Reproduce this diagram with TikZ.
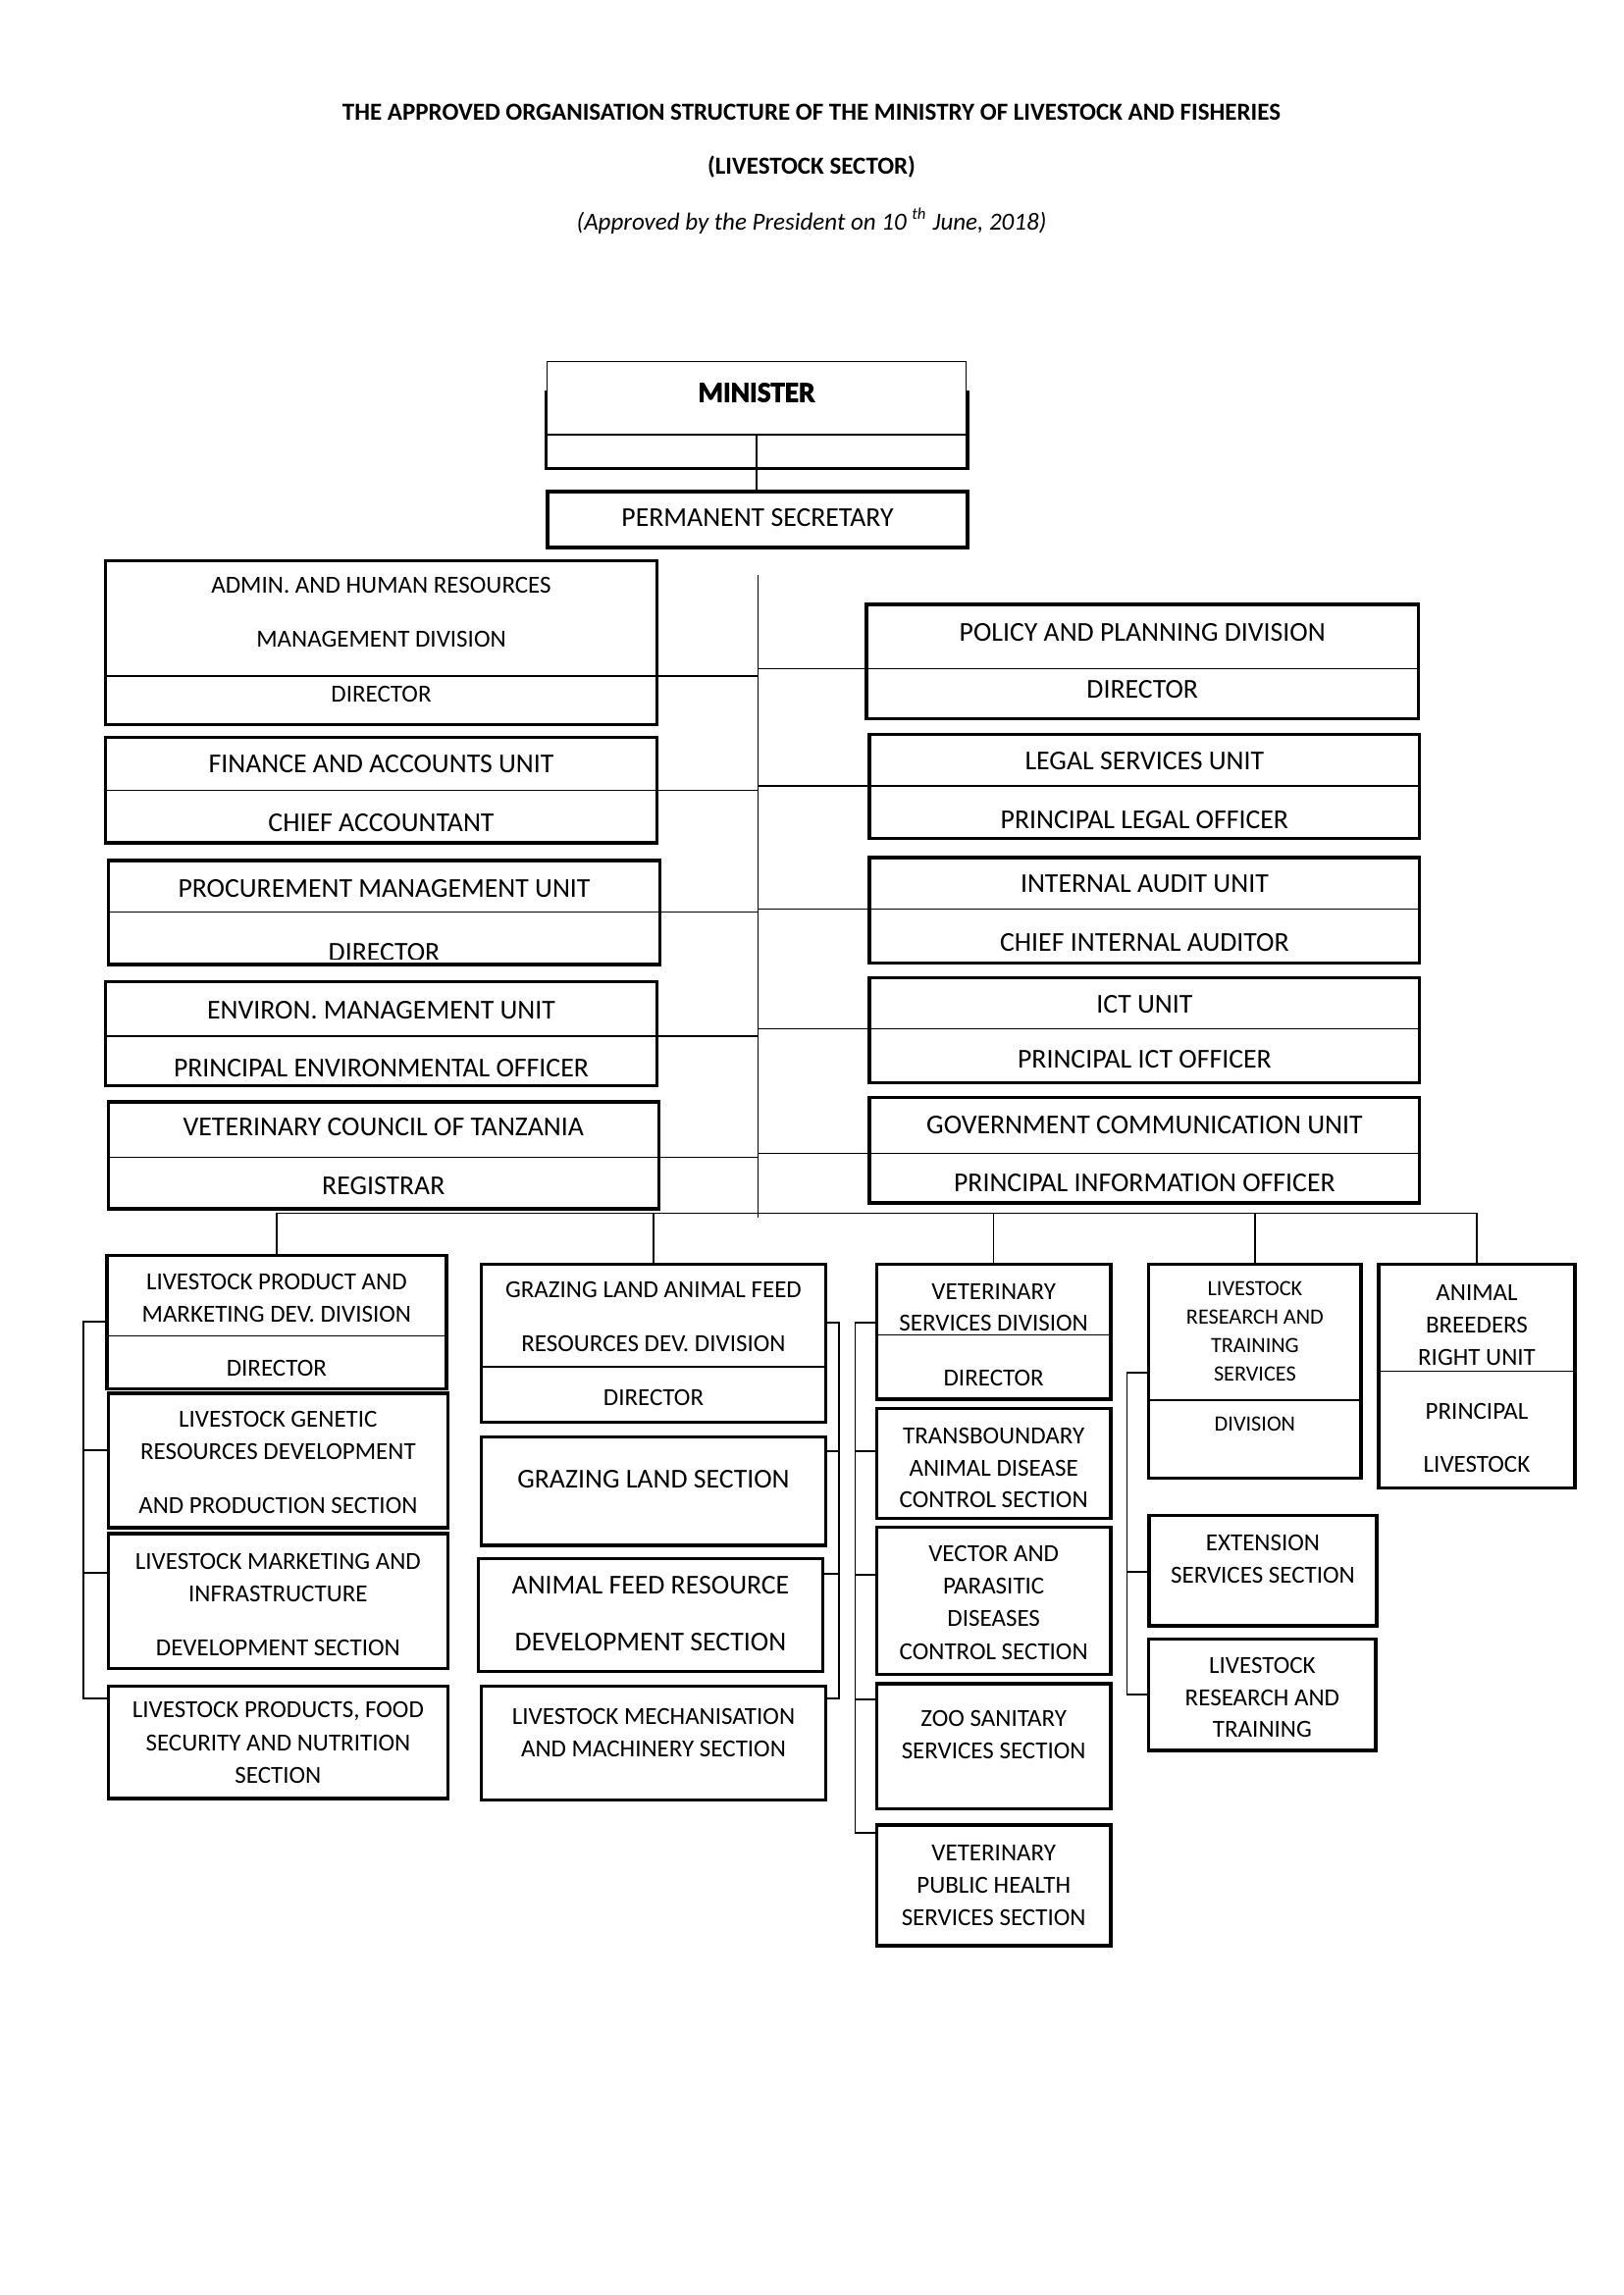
\documentclass[tikz,border=0pt]{standalone}
\usepackage{fontspec}
\setmainfont{Carlito}
\newfontfamily\heavyfont[BoldFeatures={FakeBold=2.5}]{Carlito}
\usetikzlibrary{fit}
\begin{document}
\begin{tikzpicture}[x=0.36pt,y=-0.36pt,
 box/.style={draw,line width=1.2pt,fill=white,inner sep=0pt,outer sep=0pt},
 thinbox/.style={draw,line width=0.45pt,fill=white,inner sep=0pt,outer sep=0pt},
 ln/.style={line width=0.45pt},
 tx/.style={inner sep=0pt,font=\fontsize{10}{12}\selectfont},
 tn/.style={inner sep=0pt,font=\fontsize{9}{11}\selectfont},
 ts/.style={inner sep=0pt,font=\fontsize{8}{10}\selectfont},
 ttl/.style={inner sep=0pt,font=\bfseries\fontsize{9}{11}\selectfont}]

\fill[white] (0,0) rectangle (1654,2339);
\useasboundingbox (0,0) rectangle (1654,2339);

% ---------- titles
\node[ttl] (title1) at (827,114.8) {THE APPROVED ORGANISATION STRUCTURE OF THE MINISTRY OF LIVESTOCK AND FISHERIES};
\node[ttl] (title2) at (827,170) {(LIVESTOCK SECTOR)};
\node[inner sep=0pt,font=\itshape\fontsize{9}{11}\selectfont] (title3) at (827,225.2) {(Approved by the President on 10 \textsuperscript{th} June, 2018)};

% ---------- minister and PS
\node[box,fit={(556.3,399.7) (985.9,477.3)}] (minb) {};
\node[thinbox,fit={(557.8,368.4) (984.4,443)}] (min) {};
\node[inner sep=0pt,font=\heavyfont\bfseries\fontsize{10.5}{12}\selectfont] (mint) at (771,400) {MINISTER};
\node[box,fit={(558,501) (986,558)}] (ps) {};
\node[tx] (pst) at (772,528) {PERMANENT SECRETARY};
\draw[ln] (min.south) -- (min.south |- ps.north);

% ---------- spine
\coordinate (sT) at (772.6,586);
\coordinate (sB) at (772.6,1241);
\draw[ln] (sT) -- (sB);

% ---------- left column
\node[box,fit={(107.4,571.2) (669.7,738.3)}] (admin) {};
\draw[ln] (107.4,689) -- (669.7,689);
\node[tn] (admin1) at (388.5,596.6) {ADMIN. AND HUMAN RESOURCES};
\node[tn] (admin2) at (388.5,651.8) {MANAGEMENT DIVISION};
\node[tn] (admin3) at (388.5,707) {DIRECTOR};

\node[box,fit={(107.4,751.7) (669.7,859)}] (fin) {};
\draw[ln] (107.4,805.4) -- (669.7,805.4);
\node[tx] (fin1) at (388.5,778.6) {FINANCE AND ACCOUNTS UNIT};
\node[tx] (fin2) at (388.5,838.2) {CHIEF ACCOUNTANT};

\node[box,fit={(110.4,877) (672.7,982.9)}] (proc) {};
\draw[ln] (110.4,929.2) -- (672.7,929.2);
\node[tx] (proc1) at (391.5,905.3) {PROCUREMENT MANAGEMENT UNIT};
\begin{scope}
\clip (110.4,877) rectangle (672.7,977);
\node[tx,anchor=base] (proc2) at (391.5,979.5) {DIRECTOR};
\end{scope}

\node[box,fit={(107.4,1000.8) (669.7,1106.7)}] (env) {};
\draw[ln] (107.4,1056) -- (669.7,1056);
\node[tx] (env1) at (388.5,1029.1) {ENVIRON. MANAGEMENT UNIT};
\node[tx] (env2) at (388.5,1088.8) {PRINCIPAL ENVIRONMENTAL OFFICER};

\node[box,fit={(110.4,1123.1) (671.2,1232)}] (vct) {};
\draw[ln] (110.4,1179.8) -- (671.2,1179.8);
\node[tx] (vct1) at (390.8,1148.5) {VETERINARY COUNCIL OF TANZANIA};
\node[tx] (vct2) at (390.8,1208.1) {REGISTRAR};

\coordinate (sA1) at (772.6,689);
\coordinate (sA2) at (772.6,805.4);
\coordinate (sA3) at (772.6,929.2);
\coordinate (sA4) at (772.6,1056);
\coordinate (sA5) at (772.6,1179.8);
\draw[ln] (admin.east |- sA1) -- (sA1);
\draw[ln] (fin.east |- sA2) -- (sA2);
\draw[ln] (proc.east |- sA3) -- (sA3);
\draw[ln] (env.east |- sA4) -- (sA4);
\draw[ln] (vct.east |- sA5) -- (sA5);

% ---------- right column
\node[box,fit={(883,616) (1445.3,732.3)}] (pol) {};
\draw[ln] (883,681.6) -- (1445.3,681.6);
\node[tx] (pol1) at (1164.2,644.3) {POLICY AND PLANNING DIVISION};
\node[tx] (pol2) at (1164.2,702.5) {DIRECTOR};

\node[box,fit={(886,748.7) (1446.8,854.6)}] (leg) {};
\draw[ln] (886,801) -- (1446.8,801);
\node[tx] (leg1) at (1166.4,775.6) {LEGAL SERVICES UNIT};
\node[tx] (leg2) at (1166.4,835.2) {PRINCIPAL LEGAL OFFICER};

\node[box,fit={(886,874) (1446.8,981.4)}] (aud) {};
\draw[ln] (886,926.2) -- (1446.8,926.2);
\node[tx] (aud1) at (1166.4,900.9) {INTERNAL AUDIT UNIT};
\node[tx] (aud2) at (1166.4,960.5) {CHIEF INTERNAL AUDITOR};

\node[box,fit={(886,996.3) (1446.8,1103.7)}] (ict) {};
\draw[ln] (886,1048.5) -- (1446.8,1048.5);
\node[tx] (ict1) at (1166.4,1023.2) {ICT UNIT};
\node[tx] (ict2) at (1166.4,1079.8) {PRINCIPAL ICT OFFICER};

\node[box,fit={(886,1118.6) (1446.8,1226)}] (gcu) {};
\draw[ln] (886,1175.3) -- (1446.8,1175.3);
\node[tx] (gcu1) at (1166.4,1147) {GOVERNMENT COMMUNICATION UNIT};
\node[tx] (gcu2) at (1166.4,1205.1) {PRINCIPAL INFORMATION OFFICER};

\coordinate (sR1) at (772.6,681.6);
\coordinate (sR2) at (772.6,801);
\coordinate (sR3) at (772.6,926.2);
\coordinate (sR4) at (772.6,1048.5);
\coordinate (sR5) at (772.6,1175.3);
\draw[ln] (sR1) -- (pol.west |- sR1);
\draw[ln] (sR2) -- (leg.west |- sR2);
\draw[ln] (sR3) -- (aud.west |- sR3);
\draw[ln] (sR4) -- (ict.west |- sR4);
\draw[ln] (sR5) -- (gcu.west |- sR5);

% ---------- bottom: livestock product column
\node[box,fit={(108.9,1279.7) (454.9,1415.4)}] (lp) {};
\draw[ln] (108.9,1361.7) -- (454.9,1361.7);
\node[tn] (lp1) at (281.9,1306.6) {LIVESTOCK PRODUCT AND};
\node[tn] (lp2) at (281.9,1339.4) {MARKETING DEV. DIVISION};
\node[tn] (lp3) at (281.9,1394.6) {DIRECTOR};

\node[box,fit={(110.4,1420) (456.4,1557)}] (lg) {};
\node[tn] (lg1) at (283.4,1446.8) {LIVESTOCK GENETIC};
\node[tn] (lg2) at (283.4,1479.6) {RESOURCES DEVELOPMENT};
\node[tn] (lg3) at (283.4,1534.8) {AND PRODUCTION SECTION};

\node[box,fit={(110.4,1563) (456.4,1700.3)}] (lm) {};
\node[tn] (lm1) at (283.4,1591.4) {LIVESTOCK MARKETING AND};
\node[tn] (lm2) at (283.4,1624.2) {INFRASTRUCTURE};
\node[tn] (lm3) at (283.4,1679.4) {DEVELOPMENT SECTION};

\node[box,fit={(110.4,1718.2) (456.4,1833)}] (lpf) {};
\node[tn] (lpf1) at (283.4,1743.6) {LIVESTOCK PRODUCTS, FOOD};
\node[tn] (lpf2) at (283.4,1776.4) {SECURITY AND NUTRITION};
\node[tn] (lpf3) at (283.4,1809.2) {SECTION};

\coordinate (lj1) at (85,1347);
\coordinate (lj2) at (85,1478);
\coordinate (lj3) at (85,1603);
\coordinate (lj4) at (85,1731);
\draw[ln] (lp.west |- lj1) -- (lj1) -- (lj4) -- (lpf.west |- lj4);
\draw[ln] (lj2) -- (lg.west |- lj2);
\draw[ln] (lj3) -- (lm.west |- lj3);

% ---------- grazing column
\node[box,fit={(490.7,1288.7) (841.2,1449.7)}] (gd) {};
\draw[ln] (490.7,1393) -- (841.2,1393);
\node[tn] (gd1) at (666,1314) {GRAZING LAND ANIMAL FEED};
\node[tn] (gd2) at (666,1369.2) {RESOURCES DEV. DIVISION};
\node[tn] (gd3) at (666,1424.4) {DIRECTOR};

\node[box,fit={(490.7,1464.7) (841.2,1575)}] (gl) {};
\node[tx] (gl1) at (666,1508) {GRAZING LAND SECTION};

\node[box,fit={(487.7,1588.4) (838.2,1703.3)}] (af) {};
\node[tx] (af1) at (663,1615.3) {ANIMAL FEED RESOURCE};
\node[tx] (af2) at (663,1673.5) {DEVELOPMENT SECTION};

\node[box,fit={(490.7,1718.2) (841.2,1834.5)}] (mech) {};
\node[tn] (mech1) at (666,1749.5) {LIVESTOCK MECHANISATION};
\node[tn] (mech2) at (666,1782.3) {AND MACHINERY SECTION};

\coordinate (gj1) at (855,1348);
\coordinate (gj2) at (855,1479);
\coordinate (gj3) at (855,1604);
\coordinate (gj4) at (855,1731);
\draw[ln] (gd.east |- gj1) -- (gj1) -- (gj4) -- (mech.east |- gj4);
\draw[ln] (gj2) -- (gl.east |- gj2);
\draw[ln] (gj3) -- (af.east |- gj3);

% ---------- veterinary column
\node[box,fit={(893.4,1288.7) (1132,1425.9)}] (vd) {};
\draw[ln] (893.4,1360.2) -- (1132,1360.2);
\node[tn] (vd1) at (1012.7,1316) {VETERINARY};
\node[tn] (vd2) at (1012.7,1348.5) {SERVICES DIVISION};
\node[tn] (vd3) at (1012.7,1404) {DIRECTOR};

\node[box,fit={(893.4,1435.2) (1132,1547.5)}] (tb) {};
\node[tn] (tb1) at (1012.7,1463.5) {TRANSBOUNDARY};
\node[tn] (tb2) at (1012.7,1496) {ANIMAL DISEASE};
\node[tn] (tb3) at (1012.7,1528.6) {CONTROL SECTION};

\node[box,fit={(893.4,1556.5) (1132,1706.5)}] (vec) {};
\node[tn] (vec1) at (1012.7,1583.8) {VECTOR AND};
\node[tn] (vec2) at (1012.7,1616.9) {PARASITIC};
\node[tn] (vec3) at (1012.7,1649.9) {DISEASES};
\node[tn] (vec4) at (1012.7,1683) {CONTROL SECTION};

\node[box,fit={(893.4,1716) (1132,1843.4)}] (zoo) {};
\node[tn] (zoo1) at (1012.7,1751.4) {ZOO SANITARY};
\node[tn] (zoo2) at (1012.7,1784.4) {SERVICES SECTION};

\node[box,fit={(893.4,1860) (1132,1983)}] (vph) {};
\node[tn] (vph1) at (1012.7,1888.2) {VETERINARY};
\node[tn] (vph2) at (1012.7,1921.3) {PUBLIC HEALTH};
\node[tn] (vph3) at (1012.7,1954.3) {SERVICES SECTION};

\coordinate (vj1) at (871.5,1348);
\coordinate (vj2) at (871.5,1479);
\coordinate (vj3) at (871.5,1605);
\coordinate (vj4) at (871.5,1732);
\coordinate (vj5) at (871.5,1868);
\draw[ln] (vd.west |- vj1) -- (vj1) -- (vj5) -- (vph.west |- vj5);
\draw[ln] (vj2) -- (tb.west |- vj2);
\draw[ln] (vj3) -- (vec.west |- vj3);
\draw[ln] (vj4) -- (zoo.west |- vj4);

% ---------- research column
\node[box,fit={(1170.8,1288.7) (1387,1506.4)}] (rs) {};
\draw[ln] (1170.8,1427) -- (1387,1427);
\node[ts] (rs1) at (1278.9,1313) {LIVESTOCK};
\node[ts] (rs2) at (1278.9,1342) {RESEARCH AND};
\node[ts] (rs3) at (1278.9,1371.5) {TRAINING};
\node[ts] (rs4) at (1278.9,1400.6) {SERVICES};
\node[ts] (rs5) at (1278.9,1451.5) {DIVISION};

\node[box,fit={(1171,1544.5) (1403,1657)}] (ext) {};
\node[tn] (ext1) at (1287,1572.5) {EXTENSION};
\node[tn] (ext2) at (1287,1605.5) {SERVICES SECTION};

\node[box,fit={(1170.8,1670.5) (1402,1784)}] (lrt) {};
\node[tn] (lrt1) at (1286.4,1697) {LIVESTOCK};
\node[tn] (lrt2) at (1286.4,1730) {RESEARCH AND};
\node[tn] (lrt3) at (1286.4,1762) {TRAINING};

\coordinate (rj1) at (1148.5,1399);
\coordinate (rj2) at (1148.5,1602);
\coordinate (rj3) at (1148.5,1727);
\draw[ln] (rs.west |- rj1) -- (rj1) -- (rj3) -- (lrt.west |- rj3);
\draw[ln] (rj2) -- (ext.west |- rj2);

% ---------- animal breeders
\node[box,fit={(1405,1288.7) (1604.9,1516.8)}] (abr) {};
\draw[ln] (1405,1397.5) -- (1604.9,1397.5);
\node[tn] (abr1) at (1505,1317) {ANIMAL};
\node[tn] (abr2) at (1505,1350) {BREEDERS};
\node[tn] (abr3) at (1505,1383) {RIGHT UNIT};
\node[tn] (abr4) at (1505,1438) {PRINCIPAL};
\node[tn] (abr5) at (1505,1492) {LIVESTOCK};

% ---------- bus
\coordinate (bus) at (772.6,1236.5);
\draw[ln] (lp.north) |- (bus) -| (abr.north);
\draw[ln] (gd.north) -- (gd.north |- bus);
\draw[ln] (vd.north) -- (vd.north |- bus);
\draw[ln] (rs.north) -- (rs.north |- bus);

\end{tikzpicture}
\end{document}
